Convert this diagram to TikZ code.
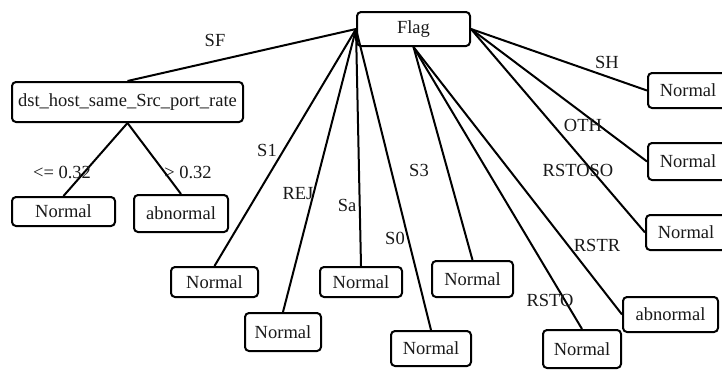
\documentclass[tikz,border=0pt]{standalone}
\usepackage{fontspec}
\setmainfont{Liberation Serif}
\begin{document}
\begin{tikzpicture}[x=1pt,y=-1pt,
  leaf/.style={draw, rounded corners=4pt, line width=2pt, inner sep=0pt,
    text=black!90, font=\fontsize{18.5}{20}\selectfont},
  edge/.style={line width=2pt},
  lbl/.style={inner sep=0pt, text=black!90, font=\fontsize{18.5}{20}\selectfont}]
\useasboundingbox (0,0) rectangle (722,370);
\clip (0,0) rectangle (722,370);

% root and inner node
\node[leaf, minimum width=113pt, minimum height=34pt] (flag) at (413.5,29) {Flag};
\node[leaf, minimum width=231pt, minimum height=40pt] (dst) at (127.5,102) {dst\_host\_same\_Src\_port\_rate};

% leaves
\node[leaf, minimum width=103pt, minimum height=29pt] (n1)     at (63.5,211.5) {Normal};
\node[leaf, minimum width=94pt,  minimum height=37pt] (ab1)    at (181,213.5)  {abnormal};
\node[leaf, minimum width=87pt,  minimum height=30pt] (nS1)    at (214.5,282)  {Normal};
\node[leaf, minimum width=76pt,  minimum height=38pt] (nREJ)   at (283,332)    {Normal};
\node[leaf, minimum width=82pt,  minimum height=30pt] (nSa)    at (361,282)    {Normal};
\node[leaf, minimum width=80pt,  minimum height=35pt] (nS0)    at (431,348.5)  {Normal};
\node[leaf, minimum width=81pt,  minimum height=36pt] (nS3)    at (472.5,279)  {Normal};
\node[leaf, minimum width=78pt,  minimum height=38pt] (nRSTO)  at (582,349)    {Normal};
\node[leaf, minimum width=95pt,  minimum height=35pt] (abRSTR) at (670.5,314.5){abnormal};
\node[leaf, minimum width=80pt,  minimum height=35pt] (nSH)    at (688,90.5)   {Normal};
\node[leaf, minimum width=80pt,  minimum height=37pt] (nOTH)   at (688,161.5)  {Normal};
\node[leaf, minimum width=80pt,  minimum height=35pt] (nRSO)   at (686,232.5)  {Normal};

% branches
\draw[edge] (flag.west) -- (dst.north);
\draw[edge] (flag.west) -- (nS1.north);
\draw[edge] (flag.west) -- (nREJ.north);
\draw[edge] (flag.west) -- (nSa.north);
\draw[edge] (flag.west) -- (nS0.north);
\draw[edge] (flag.south) -- (nS3.north);
\draw[edge] (flag.south) -- (nRSTO.north);
\draw[edge] (flag.south) -- (abRSTR.west);
\draw[edge] (flag.east) -- (nSH.west);
\draw[edge] (flag.east) -- (nOTH.west);
\draw[edge] (flag.east) -- (nRSO.west);
\draw[edge] (dst.south) -- (n1.north);
\draw[edge] (dst.south) -- (ab1.north);

% branch labels
\node[lbl] (lSF)   at (215,40)  {SF};
\node[lbl] (lle)   at (62,172)  {<= 0.32};
\node[lbl] (lgt)   at (188,172) {> 0.32};
\node[lbl] (lS1)   at (267,150) {S1};
\node[lbl] (lREJ)  at (298,194) {REJ};
\node[lbl] (lSa)   at (347,205) {Sa};
\node[lbl] (lS0)   at (395,238) {S0};
\node[lbl] (lS3)   at (419,170) {S3};
\node[lbl] (lRSO)  at (578,170) {RSTOSO};
\node[lbl] (lOTH)  at (583,125) {OTH};
\node[lbl] (lSH)   at (607,62)  {SH};
\node[lbl] (lRSTR) at (597,245) {RSTR};
\node[lbl] (lRSTO) at (550,300) {RSTO};
\end{tikzpicture}
\end{document}
